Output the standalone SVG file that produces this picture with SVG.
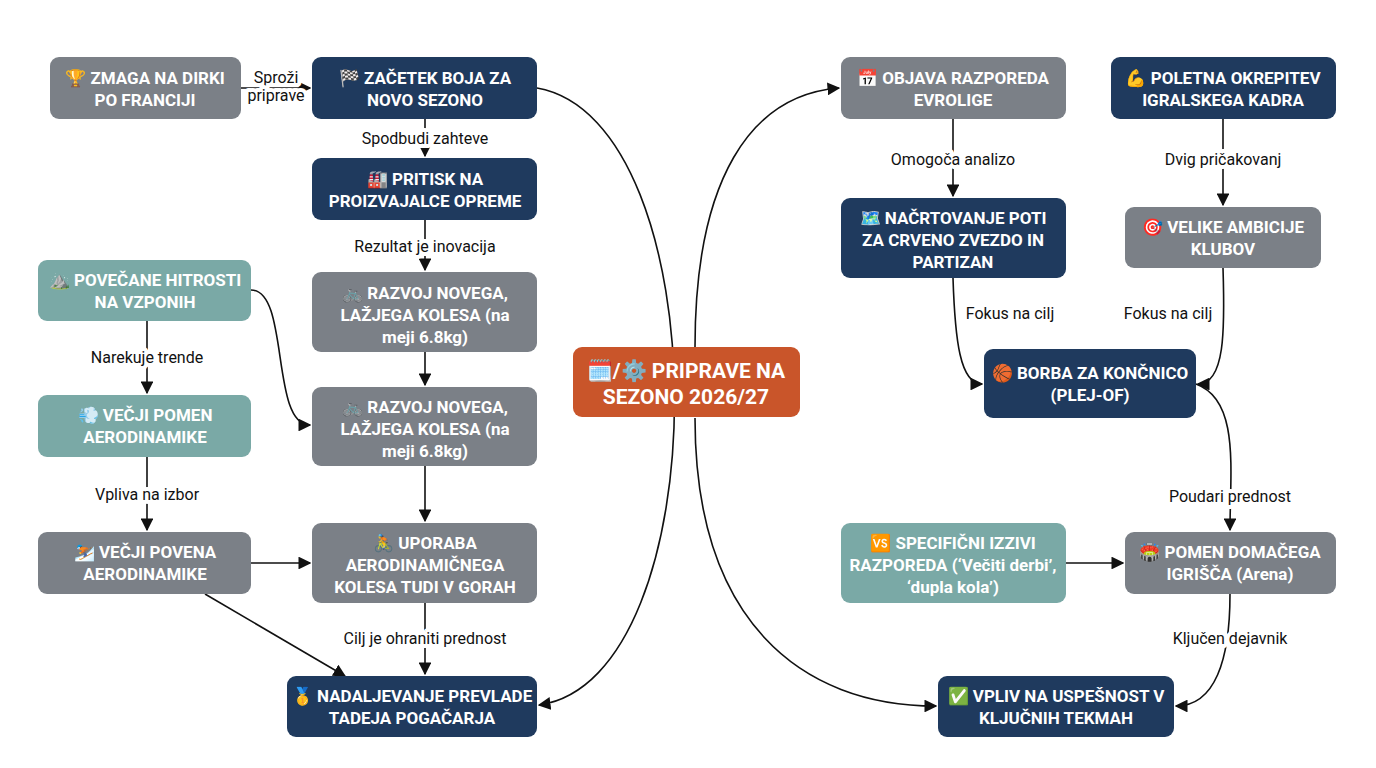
<svg xmlns="http://www.w3.org/2000/svg" width="1376" height="768" viewBox="0 0 1376 768">
<style>
.n rect{rx:9;ry:9}
.navy{fill:#1f3a5e}.gray{fill:#7b8087}.teal{fill:#7aa9a6}.or{fill:#c9552a}
.t{font-family:Roboto,"Noto Sans","DejaVu Sans",sans-serif;font-weight:bold;font-size:17px;fill:#fff;text-anchor:middle}
.c{font-size:21px}
.l{font-family:Roboto,"Noto Sans",sans-serif;font-size:16px;fill:#111;text-anchor:middle;stroke:#fff;stroke-width:8px;paint-order:stroke;stroke-linejoin:round}
.e path{fill:none;stroke:#111;stroke-width:1.6;marker-end:url(#a)}
</style>
<defs><marker id="a" viewBox="0 0 10 10" refX="9" refY="5" markerWidth="8" markerHeight="8" orient="auto"><path d="M0,0L10,5L0,10z" fill="#111"/></marker></defs>
<rect width="1376" height="768" fill="#fff"/>
<g class="e">
<path d="M241,88H310"/>
<path d="M425,119V156"/>
<path d="M425,220V270"/>
<path d="M425,352V385"/>
<path d="M251,290C290,290 270,425 310,425"/>
<path d="M147,321V393"/>
<path d="M147,457V530"/>
<path d="M251,563H310"/>
<path d="M425,466V521"/>
<path d="M425,603V674"/>
<path d="M205,594L345,676"/>
<path d="M537,88C720,120 720,680 539,705"/>
<path d="M695,347C695,180 750,95 839,88"/>
<path d="M695,418C695,620 800,706 936,706"/>
<path d="M953,119V196"/>
<path d="M1223,119V205"/>
<path d="M953,278C955,340 960,384 982,384"/>
<path d="M1223,268C1225,330 1225,384 1198,384"/>
<path d="M1196,384C1240,400 1230,470 1230,530"/>
<path d="M1066,563H1123"/>
<path d="M1230,594C1230,660 1215,706 1176,706"/>
</g>
<g>
<text class="l" x="276" y="83">Sproži</text><text class="l" x="276" y="101">priprave</text>
<text class="l" x="425" y="144">Spodbudi zahteve</text>
<text class="l" x="425" y="252">Rezultat je inovacija</text>
<text class="l" x="147" y="363">Narekuje trende</text>
<text class="l" x="147" y="500">Vpliva na izbor</text>
<text class="l" x="425" y="644">Cilj je ohraniti prednost</text>
<text class="l" x="953" y="165">Omogoča analizo</text>
<text class="l" x="1223" y="165">Dvig pričakovanj</text>
<text class="l" x="1010" y="319">Fokus na cilj</text>
<text class="l" x="1168" y="319">Fokus na cilj</text>
<text class="l" x="1230" y="502">Poudari prednost</text>
<text class="l" x="1230" y="644">Ključen dejavnik</text>
</g>
<g id="n1" class="n"><rect class="gray" x="50" y="57" width="191" height="62"/><text class="t" x="145" y="84">🏆 ZMAGA NA DIRKI</text><text class="t" x="145" y="106">PO FRANCIJI</text></g>
<g id="n2" class="n"><rect class="navy" x="312" y="57" width="225" height="62"/><text class="t" x="425" y="84">🏁 ZAČETEK BOJA ZA</text><text class="t" x="425" y="106">NOVO SEZONO</text></g>
<g id="n3" class="n"><rect class="navy" x="312" y="158" width="225" height="62"/><text class="t" x="425" y="185">🏭 PRITISK NA</text><text class="t" x="425" y="207">PROIZVAJALCE OPREME</text></g>
<g id="n4" class="n"><rect class="gray" x="312" y="272" width="225" height="80"/><text class="t" x="425" y="299">🚲 RAZVOJ NOVEGA,</text><text class="t" x="425" y="321">LAŽJEGA KOLESA (na</text><text class="t" x="425" y="343">meji 6.8kg)</text></g>
<g id="n5" class="n"><rect class="gray" x="312" y="387" width="225" height="79"/><text class="t" x="425" y="413">🚲 RAZVOJ NOVEGA,</text><text class="t" x="425" y="435">LAŽJEGA KOLESA (na</text><text class="t" x="425" y="457">meji 6.8kg)</text></g>
<g id="n6" class="n"><rect class="gray" x="312" y="523" width="225" height="80"/><text class="t" x="425" y="549">🚴 UPORABA</text><text class="t" x="425" y="571">AERODINAMIČNEGA</text><text class="t" x="425" y="593">KOLESA TUDI V GORAH</text></g>
<g id="n7" class="n"><rect class="navy" x="287" y="676" width="250" height="61"/><text class="t" x="412" y="702">🥇 NADALJEVANJE PREVLADE</text><text class="t" x="412" y="724">TADEJA POGAČARJA</text></g>
<g id="n8" class="n"><rect class="teal" x="38" y="260" width="213" height="61"/><text class="t" x="145" y="286">⛰️ POVEČANE HITROSTI</text><text class="t" x="145" y="308">NA VZPONIH</text></g>
<g id="n9" class="n"><rect class="teal" x="38" y="395" width="213" height="62"/><text class="t" x="145" y="421">💨 VEČJI POMEN</text><text class="t" x="145" y="443">AERODINAMIKE</text></g>
<g id="n10" class="n"><rect class="gray" x="38" y="532" width="213" height="62"/><text class="t" x="145" y="558">⛷️ VEČJI POVENA</text><text class="t" x="145" y="580">AERODINAMIKE</text></g>
<g id="center" class="n"><rect class="or" x="573" y="347" width="227" height="70"/><text class="t c" x="686" y="378">🗓️/⚙️ PRIPRAVE NA</text><text class="t c" x="686" y="404">SEZONO 2026/27</text></g>
<g id="r1" class="n"><rect class="gray" x="841" y="57" width="225" height="62"/><text class="t" x="953" y="84">📅 OBJAVA RAZPOREDA</text><text class="t" x="953" y="106">EVROLIGE</text></g>
<g id="r2" class="n"><rect class="navy" x="1111" y="57" width="225" height="62"/><text class="t" x="1223" y="84">💪 POLETNA OKREPITEV</text><text class="t" x="1223" y="106">IGRALSKEGA KADRA</text></g>
<g id="r3" class="n"><rect class="navy" x="841" y="198" width="225" height="80"/><text class="t" x="953" y="224">🗺️ NAČRTOVANJE POTI</text><text class="t" x="953" y="246">ZA CRVENO ZVEZDO IN</text><text class="t" x="953" y="268">PARTIZAN</text></g>
<g id="r4" class="n"><rect class="gray" x="1125" y="207" width="196" height="61"/><text class="t" x="1223" y="233">🎯 VELIKE AMBICIJE</text><text class="t" x="1223" y="255">KLUBOV</text></g>
<g id="r5" class="n"><rect class="navy" x="984" y="349" width="212" height="69"/><text class="t" x="1090" y="379">🏀 BORBA ZA KONČNICO</text><text class="t" x="1090" y="401">(PLEJ-OF)</text></g>
<g id="r6" class="n"><rect class="teal" x="841" y="523" width="225" height="80"/><text class="t" x="953" y="549">🆚 SPECIFIČNI IZZIVI</text><text class="t" x="953" y="571">RAZPOREDA (‘Večiti derbi’,</text><text class="t" x="953" y="593">‘dupla kola’)</text></g>
<g id="r7" class="n"><rect class="gray" x="1125" y="532" width="211" height="62"/><text class="t" x="1230" y="558">🏟️ POMEN DOMAČEGA</text><text class="t" x="1230" y="580">IGRIŠČA (Arena)</text></g>
<g id="r8" class="n"><rect class="navy" x="938" y="676" width="236" height="61"/><text class="t" x="1056" y="702">✅ VPLIV NA USPEŠNOST V</text><text class="t" x="1056" y="724">KLJUČNIH TEKMAH</text></g>
</svg>
